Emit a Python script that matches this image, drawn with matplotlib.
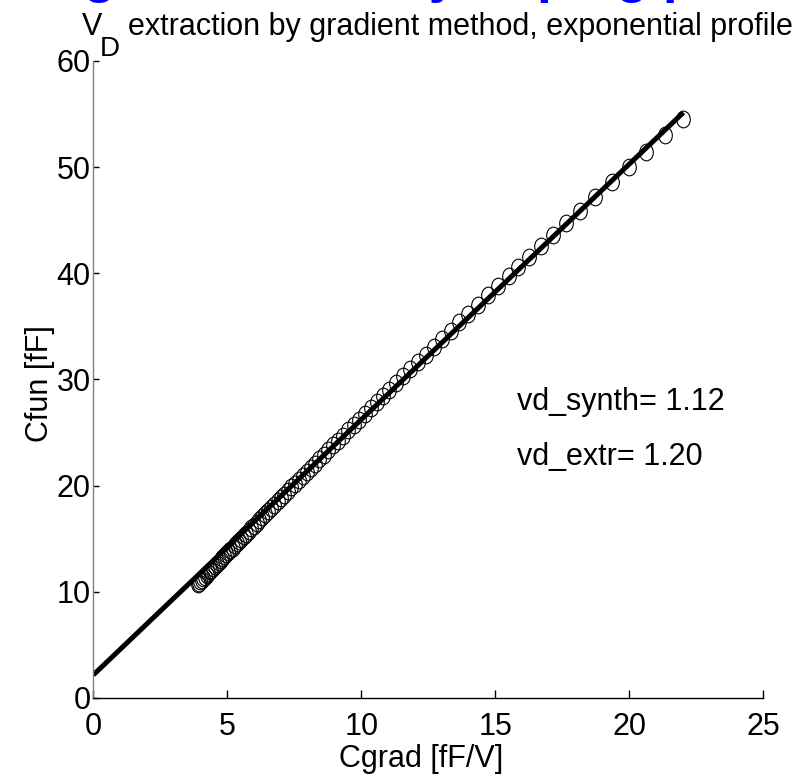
import matplotlib
matplotlib.use("Agg")
import matplotlib.pyplot as plt
from matplotlib.path import Path
from matplotlib.transforms import Affine2D

plt.rcParams["font.family"] = ["Liberation Sans", "DejaVu Sans"]

# gradient capacitance vs. functional capacitance (synthetic exponential profile)
cgrad = [3.90, 3.95, 4.00, 4.06, 4.11, 4.17, 4.23, 4.29, 4.35, 4.41,
         4.48, 4.54, 4.61, 4.68, 4.75, 4.82, 4.89, 4.96, 5.04, 5.12,
         5.20, 5.28, 5.36, 5.44, 5.53, 5.62, 5.71, 5.80, 5.90, 6.00,
         6.10, 6.20, 6.31, 6.42, 6.53, 6.64, 6.76, 6.88, 7.00, 7.13,
         7.26, 7.39, 7.53, 7.67, 7.81, 7.96, 8.11, 8.27, 8.43, 8.60,
         8.77, 8.95, 9.13, 9.32, 9.51, 9.71, 9.92, 10.13, 10.35, 10.58,
         10.81, 11.05, 11.30, 11.56, 11.83, 12.11, 12.40, 12.70, 13.01, 13.33,
         13.66, 14.00, 14.36, 14.73, 15.11, 15.51, 15.85, 16.26, 16.70, 17.15,
         17.63, 18.15, 18.72, 19.35, 19.98, 20.63, 21.32, 22.02]
cfun = [10.73, 10.86, 10.99, 11.15, 11.28, 11.44, 11.60, 11.76, 11.92, 12.08,
        12.26, 12.42, 12.61, 12.79, 12.98, 13.16, 13.34, 13.53, 13.74, 13.95,
        14.16, 14.37, 14.57, 14.78, 15.02, 15.25, 15.49, 15.72, 15.98, 16.24,
        16.50, 16.76, 17.05, 17.33, 17.62, 17.90, 18.21, 18.52, 18.83, 19.16,
        19.50, 19.83, 20.19, 20.55, 20.90, 21.28, 21.67, 22.07, 22.48, 22.91,
        23.34, 23.79, 24.25, 24.72, 25.20, 25.70, 26.23, 26.75, 27.30, 27.87,
        28.44, 29.03, 29.65, 30.29, 30.95, 31.63, 32.34, 33.07, 33.82, 34.59,
        35.38, 36.19, 37.05, 37.93, 38.83, 39.77, 40.57, 41.53, 42.55, 43.59,
        44.70, 45.89, 47.19, 48.61, 50.02, 51.47, 52.99, 54.53]

# linear fit used for the extraction
fit_x = [0.0, 22.02]
fit_y = [2.17, 55.15]

vd_synth = 1.12
vd_extr = 1.20

fig = plt.figure(figsize=(8.07, 7.81), dpi=100)
ax = fig.add_axes([0.1156, 0.1063, 0.8302, 0.8156])

# slightly tall open circles
ell = Path.unit_circle().transformed(Affine2D().scale(0.82, 1.0))
ax.plot(cgrad, cfun, linestyle="none", marker=ell, markersize=12,
        markerfacecolor="none", markeredgecolor="black", markeredgewidth=0.8)
ax.plot(fit_x, fit_y, color="black", linewidth=3.6, solid_capstyle="butt")

ax.set_xlim(0, 25)
ax.set_ylim(0, 60)
ax.set_xticks([0, 5, 10, 15, 20, 25])
ax.set_yticks([0, 10, 20, 30, 40, 50, 60])

for side in ["top", "right"]:
    ax.spines[side].set_visible(False)
ax.spines["left"].set_color("#808080")
ax.spines["left"].set_linewidth(1.0)
ax.spines["bottom"].set_linewidth(1.0)

ax.tick_params(axis="x", direction="in", length=5.5, width=1.0, pad=10, labelsize=22)
ax.tick_params(axis="y", direction="in", length=4.5, width=1.0, pad=2, labelsize=22)

ax.set_xlabel("Cgrad [fF/V]", fontsize=22, va="top")
ax.xaxis.set_label_coords(0.49, -0.072)
ax.set_ylabel("Cfun [fF]", fontsize=22, va="center")
ax.yaxis.set_label_coords(-0.08, 0.494)

ax.text(15.81, 27.1, f"vd_synth= {vd_synth:.2f}", fontsize=22, va="baseline")
ax.text(15.81, 21.9, f"vd_extr= {vd_extr:.2f}", fontsize=22, va="baseline")

# title with lowered subscript
fig.text(0.1016, 0.9552, "V", fontsize=22, va="baseline")
fig.text(0.1239, 0.9283, "D", fontsize=20, va="baseline")
fig.text(0.1586, 0.9552, "extraction by gradient method, exponential profile",
         fontsize=22, va="baseline")

# large heading above the plot area
fig.text(-0.084, 1.0102, "Testing extraction by doping profile", fontsize=38,
         fontweight="bold", color="blue", va="baseline")

fig.savefig("out.png", dpi=100)
